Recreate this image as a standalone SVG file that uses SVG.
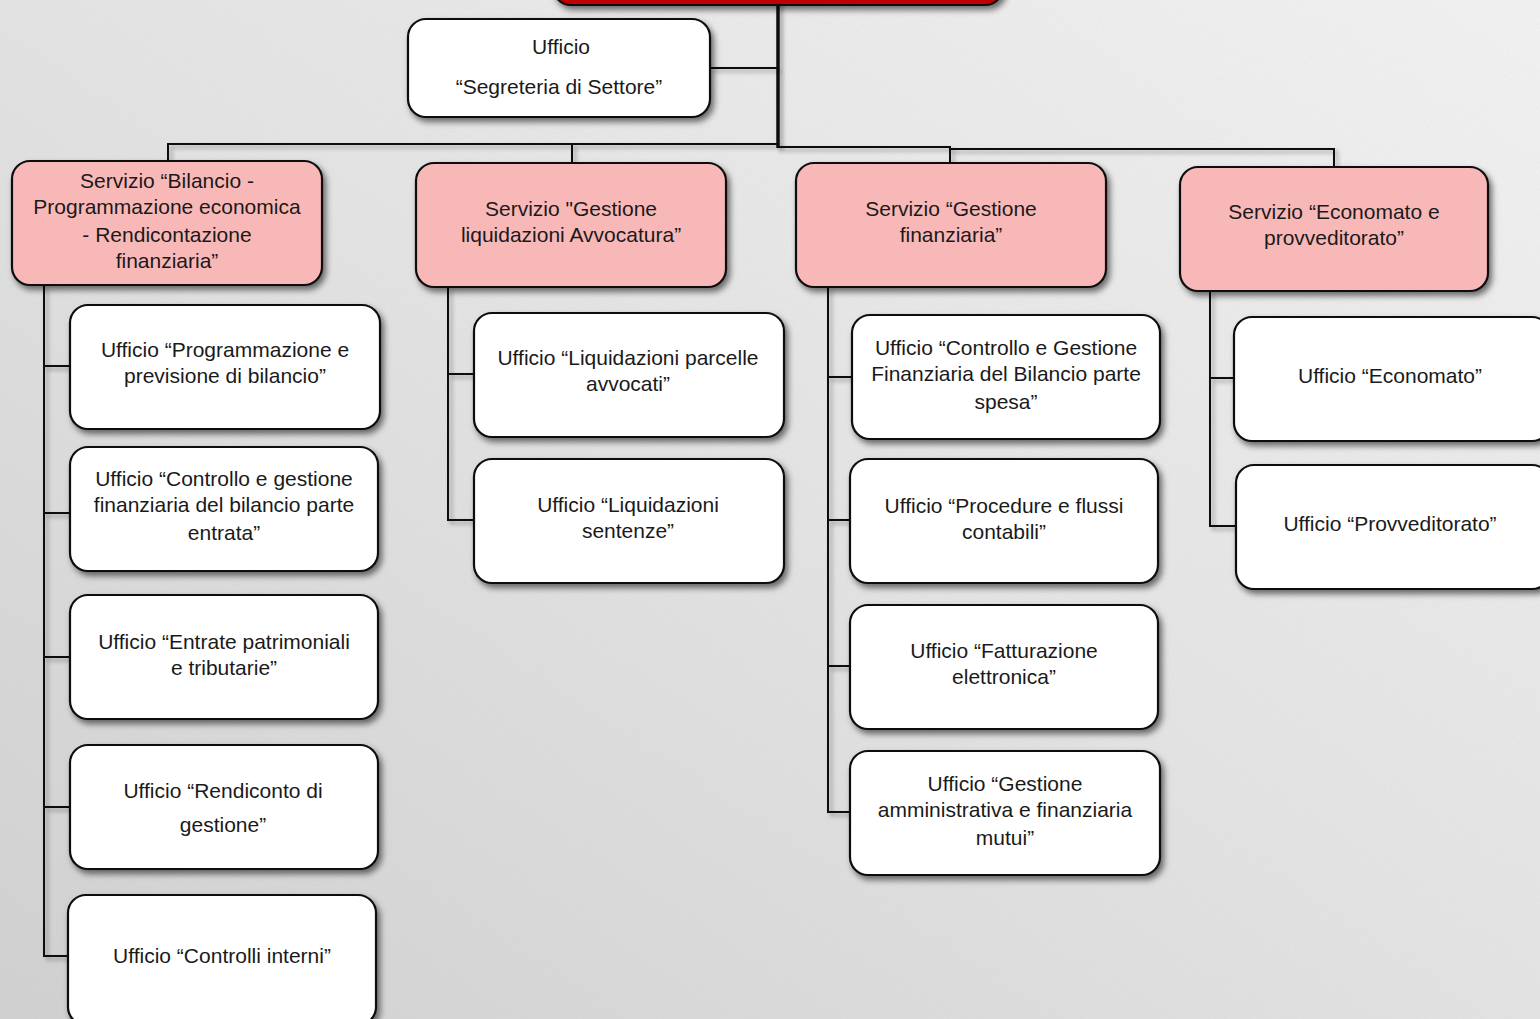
<svg xmlns="http://www.w3.org/2000/svg" width="1540" height="1019" viewBox="0 0 1540 1019">
<defs>
<linearGradient id="bg" x1="1" y1="0" x2="0" y2="1">
<stop offset="0" stop-color="#f6f6f6"/>
<stop offset="0.5" stop-color="#e6e6e6"/>
<stop offset="1" stop-color="#d2d2d2"/>
</linearGradient>
<filter id="paper" x="0" y="0" width="100%" height="100%">
<feTurbulence type="fractalNoise" baseFrequency="0.9" numOctaves="2" seed="3" result="n"/>
<feColorMatrix type="matrix" values="0 0 0 0 0.5  0 0 0 0 0.5  0 0 0 0 0.5  0 0 0 0.22 0" in="n"/>
</filter>
<filter id="sh" x="-10%" y="-10%" width="125%" height="130%">
<feDropShadow dx="3" dy="4" stdDeviation="3" flood-color="#000" flood-opacity="0.55"/>
</filter>
<filter id="lsh" filterUnits="userSpaceOnUse" x="0" y="-20" width="1540" height="1060">
<feDropShadow dx="3" dy="3" stdDeviation="2" flood-color="#000" flood-opacity="0.35"/>
</filter>
</defs>
<style>
.box{stroke:#111;stroke-width:2.2;filter:url(#sh)}
.off{fill:#fff}
.srv{fill:#f9b8b8}
.top{fill:#c00000}
.t{font-family:"Liberation Sans",Arial,sans-serif;font-size:21px;fill:#1a1a1a;text-anchor:middle}
.c{fill:none;stroke:#111;stroke-width:2;filter:url(#lsh)}
.trunk{stroke-width:3.5}
</style>
<rect width="1540" height="1019" fill="url(#bg)"/>
<rect width="1540" height="1019" filter="url(#paper)"/>

<g id="connectors">
<path class="c trunk" d="M778,0 V148"/>
<path class="c" d="M710,68 H778"/>
<path class="c" d="M168,161 V144 H778"/>
<path class="c" d="M572,144 V163"/>
<path class="c" d="M778,147 H950 V163"/>
<path class="c" d="M950,149 H1334 V167"/>
<path class="c" d="M44,285 V956 H68"/>
<path class="c" d="M44,366 H70 M44,513 H70 M44,657 H70 M44,807 H70"/>
<path class="c" d="M448,287 V520 H474 M448,374 H474"/>
<path class="c" d="M828,287 V812 H850 M828,377 H852 M828,520 H850 M828,666 H850"/>
<path class="c" d="M1210,291 V526 H1236 M1210,378 H1234"/>
</g>

<g id="n-top"><rect class="box top" x="553" y="-120" width="450" height="125" rx="18"/></g>

<g id="n-segreteria"><rect class="box off" x="408" y="19" width="302" height="98" rx="18"/>
<text class="t" x="561" y="54">Ufficio</text><text class="t" x="559" y="94">“Segreteria di Settore”</text></g>

<g id="s-bilancio"><rect class="box srv" x="12" y="161" width="310" height="124" rx="18"/>
<text class="t" x="167"><tspan x="167" y="188">Servizio “Bilancio -</tspan><tspan x="167" y="214">Programmazione economica</tspan><tspan x="167" y="242">- Rendicontazione</tspan><tspan x="167" y="268">finanziaria”</tspan></text></g>

<g id="s-liquidazioni"><rect class="box srv" x="416" y="163" width="310" height="124" rx="18"/>
<text class="t"><tspan x="571" y="216">Servizio "Gestione</tspan><tspan x="571" y="242">liquidazioni Avvocatura”</tspan></text></g>

<g id="s-finanziaria"><rect class="box srv" x="796" y="163" width="310" height="124" rx="18"/>
<text class="t"><tspan x="951" y="216">Servizio “Gestione</tspan><tspan x="951" y="242">finanziaria”</tspan></text></g>

<g id="s-economato"><rect class="box srv" x="1180" y="167" width="308" height="124" rx="18"/>
<text class="t"><tspan x="1334" y="219">Servizio “Economato e</tspan><tspan x="1334" y="245">provveditorato”</tspan></text></g>

<g id="u-programmazione"><rect class="box off" x="70" y="305" width="310" height="124" rx="18"/>
<text class="t"><tspan x="225" y="357">Ufficio “Programmazione e</tspan><tspan x="225" y="383">previsione di bilancio”</tspan></text></g>

<g id="u-entrata"><rect class="box off" x="70" y="447" width="308" height="124" rx="18"/>
<text class="t"><tspan x="224" y="486">Ufficio “Controllo e gestione</tspan><tspan x="224" y="512">finanziaria del bilancio parte</tspan><tspan x="224" y="540">entrata”</tspan></text></g>

<g id="u-tributarie"><rect class="box off" x="70" y="595" width="308" height="124" rx="18"/>
<text class="t"><tspan x="224" y="649">Ufficio “Entrate patrimoniali</tspan><tspan x="224" y="675">e tributarie”</tspan></text></g>

<g id="u-rendiconto"><rect class="box off" x="70" y="745" width="308" height="124" rx="18"/>
<text class="t"><tspan x="223" y="798">Ufficio “Rendiconto di</tspan><tspan x="223" y="832">gestione”</tspan></text></g>

<g id="u-controlli"><rect class="box off" x="68" y="895" width="308" height="130" rx="18"/>
<text class="t" x="222" y="963">Ufficio “Controlli interni”</text></g>

<g id="u-parcelle"><rect class="box off" x="474" y="313" width="310" height="124" rx="18"/>
<text class="t"><tspan x="628" y="365">Ufficio “Liquidazioni parcelle</tspan><tspan x="628" y="391">avvocati”</tspan></text></g>

<g id="u-sentenze"><rect class="box off" x="474" y="459" width="310" height="124" rx="18"/>
<text class="t"><tspan x="628" y="512">Ufficio “Liquidazioni</tspan><tspan x="628" y="538">sentenze”</tspan></text></g>

<g id="u-spesa"><rect class="box off" x="852" y="315" width="308" height="124" rx="18"/>
<text class="t"><tspan x="1006" y="355">Ufficio “Controllo e Gestione</tspan><tspan x="1006" y="381">Finanziaria del Bilancio parte</tspan><tspan x="1006" y="409">spesa”</tspan></text></g>

<g id="u-procedure"><rect class="box off" x="850" y="459" width="308" height="124" rx="18"/>
<text class="t"><tspan x="1004" y="513">Ufficio “Procedure e flussi</tspan><tspan x="1004" y="539">contabili”</tspan></text></g>

<g id="u-fatturazione"><rect class="box off" x="850" y="605" width="308" height="124" rx="18"/>
<text class="t"><tspan x="1004" y="658">Ufficio “Fatturazione</tspan><tspan x="1004" y="684">elettronica”</tspan></text></g>

<g id="u-mutui"><rect class="box off" x="850" y="751" width="310" height="124" rx="18"/>
<text class="t"><tspan x="1005" y="791">Ufficio “Gestione</tspan><tspan x="1005" y="817">amministrativa e finanziaria</tspan><tspan x="1005" y="845">mutui”</tspan></text></g>

<g id="u-economato"><rect class="box off" x="1234" y="317" width="316" height="124" rx="18"/>
<text class="t" x="1390" y="383">Ufficio “Economato”</text></g>

<g id="u-provveditorato"><rect class="box off" x="1236" y="465" width="314" height="124" rx="18"/>
<text class="t" x="1390" y="531">Ufficio “Provveditorato”</text></g>
</svg>
